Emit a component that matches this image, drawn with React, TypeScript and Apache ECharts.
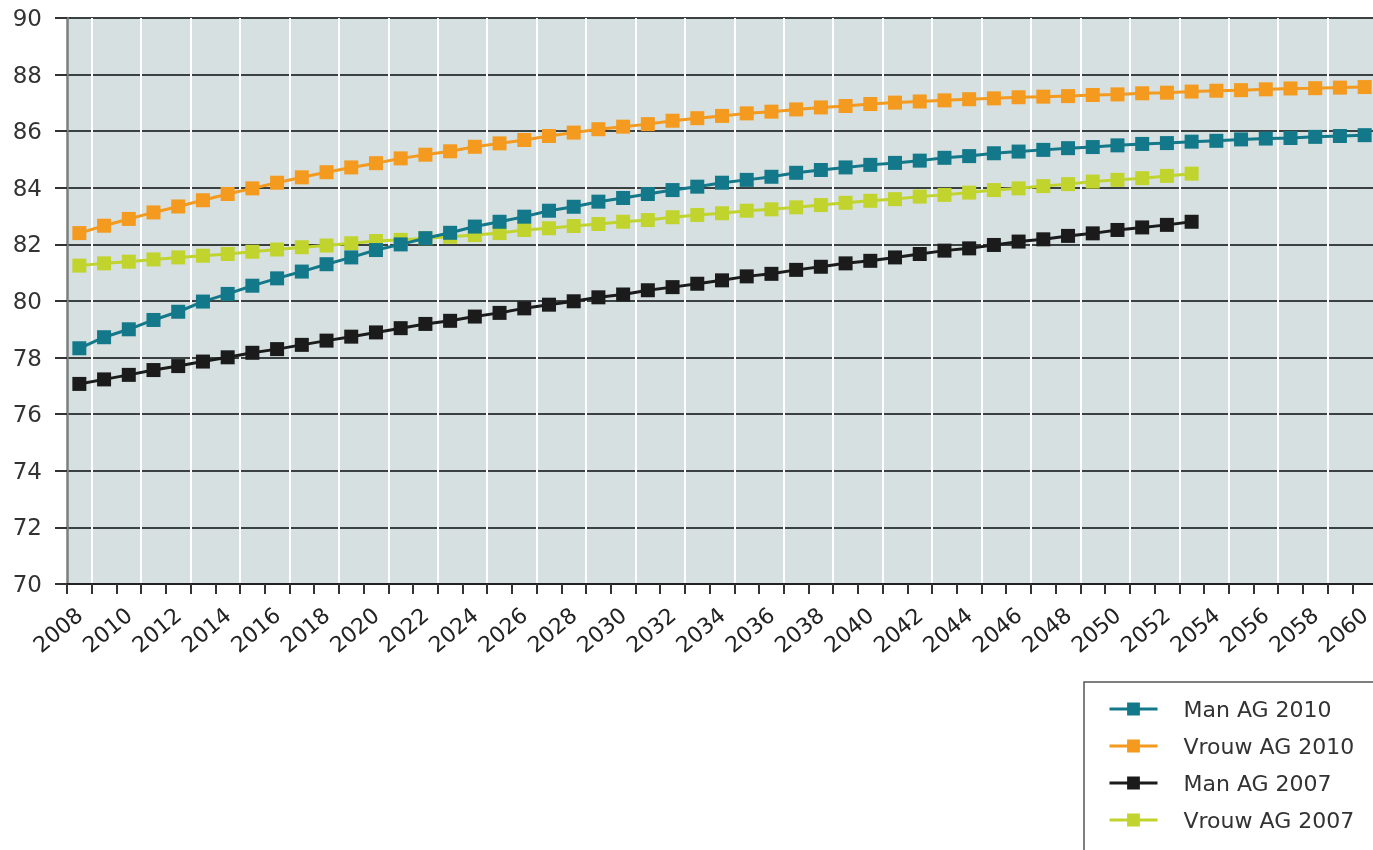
import React, { useEffect, useRef } from "react";
import * as echarts from "echarts";

const years: string[] = [];
for (let y = 2008; y <= 2060; y++) years.push(String(y));

const seriesNames = ["Man AG 2010", "Vrouw AG 2010", "Man AG 2007", "Vrouw AG 2007"];
const seriesColors = ["#12788a", "#f39a1f", "#1b1b1b", "#c1d42d"];

const manAG2010 = [
  78.33, 78.72, 79.0, 79.33, 79.62, 79.98, 80.25, 80.54, 80.8, 81.04,
  81.3, 81.54, 81.8, 82.0, 82.22, 82.41, 82.63, 82.8, 82.98, 83.19,
  83.33, 83.51, 83.64, 83.78, 83.92, 84.04, 84.18, 84.28, 84.39, 84.53,
  84.63, 84.72, 84.81, 84.88, 84.96, 85.06, 85.12, 85.22, 85.28, 85.34,
  85.4, 85.44, 85.5, 85.55, 85.58, 85.63, 85.66, 85.71, 85.74, 85.76,
  85.8, 85.83, 85.86,
];

const vrouwAG2010 = [
  82.4, 82.66, 82.9, 83.13, 83.34, 83.56, 83.78, 83.98, 84.18, 84.37,
  84.55, 84.72, 84.87, 85.04, 85.17, 85.29, 85.45, 85.57, 85.69, 85.83,
  85.95, 86.07, 86.16, 86.25, 86.37, 86.46, 86.54, 86.63, 86.69, 86.77,
  86.84, 86.89, 86.96, 87.01, 87.05, 87.09, 87.13, 87.16, 87.2, 87.22,
  87.24, 87.28, 87.3, 87.34, 87.36, 87.4, 87.43, 87.45, 87.48, 87.51,
  87.52, 87.54, 87.56,
];

const manAG2007 = [
  77.07, 77.23, 77.39, 77.56, 77.7, 77.86, 78.01, 78.17, 78.3, 78.45,
  78.6, 78.74, 78.89, 79.04, 79.19, 79.3, 79.45, 79.58, 79.74, 79.87,
  79.99, 80.13, 80.23, 80.38, 80.49, 80.61, 80.73, 80.87, 80.96, 81.1,
  81.21, 81.33, 81.42, 81.54, 81.66, 81.78, 81.86, 81.98, 82.1, 82.18,
  82.3, 82.39, 82.51, 82.6, 82.69, 82.8,
];

const vrouwAG2007 = [
  81.25, 81.33, 81.39, 81.47, 81.54, 81.6, 81.66, 81.74, 81.82, 81.9,
  81.96, 82.04, 82.12, 82.16, 82.22, 82.27, 82.33, 82.4, 82.51, 82.57,
  82.65, 82.72, 82.8, 82.86, 82.96, 83.04, 83.1, 83.19, 83.24, 83.31,
  83.39, 83.47, 83.54, 83.6, 83.69, 83.75, 83.83, 83.92, 83.98, 84.06,
  84.13, 84.22, 84.28, 84.34, 84.42, 84.5,
];

const yTicks = { min: 70, max: 90, interval: 2 };

const FONT = "DejaVu Sans";

export default function App() {
  const ref = useRef<HTMLDivElement>(null);

  useEffect(() => {
    if (!ref.current) return;
    const chart = echarts.init(ref.current, undefined, { renderer: "svg" });
    const dataSets = [manAG2010, vrouwAG2010, manAG2007, vrouwAG2007];
    const zs = [5, 4, 3, 2];
    chart.setOption({
      animation: false,
      textStyle: { fontFamily: FONT },
      grid: [
        {
          left: 67,
          right: 3,
          top: 18,
          bottom: 266,
          show: true,
          backgroundColor: "#d6e0e0",
          borderWidth: 0,
          containLabel: false,
          outerBoundsMode: "none",
        },
      ],
      graphic: [
        {
          type: "rect",
          z: 0,
          shape: { x: 1084, y: 682, width: 400, height: 300 },
          style: { fill: "#ffffff", stroke: "#555555", lineWidth: 1.5 },
        },
      ],
      legend: {
        orient: "vertical",
        left: 1108,
        top: 697,
        itemWidth: 48,
        itemHeight: 16,
        itemGap: 13,
        padding: 0,
        data: seriesNames,
        lineStyle: { width: 3 },
        textStyle: {
          fontFamily: FONT,
          fontSize: 22,
          lineHeight: 24,
          color: "#333333",
          padding: [0, 0, 0, 21],
        },
      },
      xAxis: [
        {
          type: "category",
          gridIndex: 0,
          data: years,
          boundaryGap: true,
          axisLine: { show: true, lineStyle: { color: "#222222", width: 2 } },
          axisTick: {
            show: true,
            interval: 0,
            length: 10,
            lineStyle: { color: "#333333", width: 2 },
          },
          axisLabel: {
            show: true,
            interval: 1,
            rotate: 40,
            margin: 28,
            fontSize: 22,
            fontFamily: FONT,
            color: "#222222",
          },
          splitLine: {
            show: true,
            interval: (index: number) => index % 2 === 1,
            lineStyle: { color: "#ffffff", width: 2 },
          },
        },
      ],
      yAxis: [
        {
          type: "value",
          gridIndex: 0,
          min: yTicks.min,
          max: yTicks.max,
          interval: yTicks.interval,
          axisLine: { show: true, lineStyle: { color: "#7a7f7f", width: 2.5 } },
          axisTick: {
            show: true,
            length: 12,
            lineStyle: { color: "#333333", width: 2 },
          },
          axisLabel: {
            show: true,
            margin: 25,
            fontSize: 23,
            fontFamily: FONT,
            color: "#333333",
          },
          splitLine: {
            show: true,
            lineStyle: { color: "#3b4040", width: 2 },
          },
        },
      ],
      series: seriesNames.map((name, i) => ({
        name,
        type: "line",
        data: dataSets[i],
        symbol: "rect",
        symbolSize: 14,
        z: zs[i],
        itemStyle: { color: seriesColors[i] },
        lineStyle: { color: seriesColors[i], width: 3 },
      })),
    });
    return () => chart.dispose();
  }, []);

  return (
    <div
      ref={ref}
      style={{ position: "fixed", left: 0, top: 0, width: 1380, height: 850 }}
    />
  );
}
